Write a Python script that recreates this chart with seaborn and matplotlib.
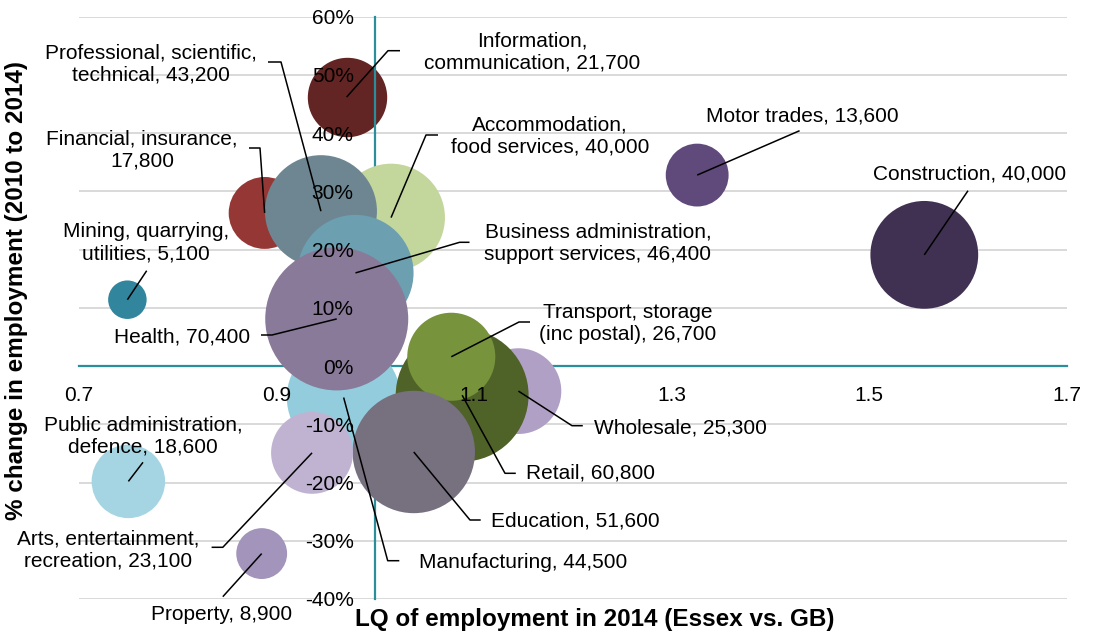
import numpy as np
import pandas as pd
import matplotlib
matplotlib.use("Agg")
import matplotlib.pyplot as plt
import seaborn as sns

# ---------------- data ----------------
sectors = [
    "Information, communication", "Professional, scientific, technical",
    "Financial, insurance", "Accommodation, food services", "Motor trades",
    "Construction", "Mining, quarrying, utilities", "Business administration, support services",
    "Health", "Transport, storage (inc postal)", "Wholesale", "Retail",
    "Manufacturing", "Education", "Arts, entertainment, recreation",
    "Public administration, defence", "Property",
]
lq = [0.971, 0.945, 0.888, 1.016, 1.326, 1.556, 0.749, 0.980,
      0.961, 1.077, 1.145, 1.088, 0.968, 1.039, 0.936, 0.750, 0.885]
change = [46.2, 26.6, 26.3, 25.5, 32.8, 19.1, 11.4, 16.0,
          8.1, 1.6, -4.3, -5.0, -5.4, -14.75, -14.9, -19.8, -32.2]
employment = [21700, 43200, 17800, 40000, 13600, 40000, 5100, 46400,
              70400, 26700, 25300, 60800, 44500, 51600, 23100, 18600, 8900]
labels = [
    "Information,\ncommunication, 21,700", "Professional, scientific,\ntechnical, 43,200",
    "Financial, insurance,\n17,800", "Accommodation,\nfood services, 40,000",
    "Motor trades, 13,600", "Construction, 40,000", "Mining, quarrying,\nutilities, 5,100",
    "Business administration,\nsupport services, 46,400", "Health, 70,400",
    "Transport, storage\n(inc postal), 26,700", "Wholesale, 25,300", "Retail, 60,800",
    "Manufacturing, 44,500", "Education, 51,600", "Arts, entertainment,\nrecreation, 23,100",
    "Public administration,\ndefence, 18,600", "Property, 8,900",
]
colors = ["#632523", "#6E8691", "#953735", "#C3D69B", "#604A7B", "#403152", "#31859C",
          "#6C9FB0", "#887A98", "#77933C", "#B1A0C6", "#4F6228", "#93CDDD", "#76707F",
          "#C0B3D1", "#A5D5E2", "#A294BA"]
x_ticks = [0.7, 0.9, 1.1, 1.3, 1.5, 1.7]
y_ticks = [-40, -30, -20, -10, 0, 10, 20, 30, 40, 50, 60]

df = pd.DataFrame({"sector": sectors, "lq": lq, "change": change,
                   "employment": employment, "label": labels})
palette = dict(zip(sectors, colors))

# ---------------- layout (pixels) ----------------
W, H = 1094, 637
L_PX, R_PX, T_PX, B_PX = 79, 1066.5, 16.7, 599.0

def px2d(px, py):
    x = 0.7 + (px - L_PX) / (R_PX - L_PX) * 1.0
    y = 60 - (py - T_PX) / (B_PX - T_PX) * 100.0
    return x, y

label_pos = {
    "Information, communication": (532, 52),
    "Professional, scientific, technical": (151, 64),
    "Financial, insurance": (142, 150),
    "Accommodation, food services": (550, 136),
    "Motor trades": (802, 116),
    "Construction": (970, 174),
    "Mining, quarrying, utilities": (146, 243),
    "Business administration, support services": (598, 243),
    "Health": (182, 337),
    "Transport, storage (inc postal)": (628, 323.5),
    "Wholesale": (680, 428),
    "Retail": (590, 473),
    "Manufacturing": (523, 563),
    "Education": (575, 521),
    "Arts, entertainment, recreation": (108, 550),
    "Public administration, defence": (143, 436),
    "Property": (222, 615),
}
leader_pts = {
    "Information, communication": [(388, 50.7), (400, 50.7)],
    "Professional, scientific, technical": [(281, 62), (268, 62)],
    "Financial, insurance": [(260, 148), (249, 148)],
    "Accommodation, food services": [(426, 135), (438, 135)],
    "Motor trades": [(799.6, 130.7)],
    "Construction": [(968, 190.7)],
    "Mining, quarrying, utilities": [(146.7, 270.7)],
    "Business administration, support services": [(459.6, 242.3), (469.5, 242.3)],
    "Health": [(272, 335), (261, 335)],
    "Transport, storage (inc postal)": [(519, 322), (530, 322)],
    "Wholesale": [(572, 425.7), (582.8, 425.7)],
    "Retail": [(505, 473.3), (515.8, 473.3)],
    "Manufacturing": [(387.7, 560.7), (399.3, 560.7)],
    "Education": [(470, 520), (480.7, 520)],
    "Arts, entertainment, recreation": [(222.8, 547.3), (211.6, 547.3)],
    "Public administration, defence": [(143, 462.3)],
    "Property": [(222.8, 596.7)],
}
draw_order = ["Manufacturing", "Wholesale", "Retail", "Transport, storage (inc postal)",
              "Education", "Arts, entertainment, recreation", "Mining, quarrying, utilities",
              "Financial, insurance", "Accommodation, food services",
              "Professional, scientific, technical", "Business administration, support services",
              "Health", "Motor trades", "Construction", "Public administration, defence",
              "Property"]

# ---------------- plot ----------------
sns.set_style("white")
plt.rcParams["font.family"] = ["Liberation Sans", "DejaVu Sans"]
plt.rcParams["text.color"] = "black"
plt.rcParams["xtick.labelcolor"] = "black"
plt.rcParams["ytick.labelcolor"] = "black"

TEAL = "#2A8E9B"
FS = 15

fig = plt.figure(figsize=(W / 100, H / 100), dpi=100)
ax = fig.add_axes([L_PX / W, 1 - B_PX / H, (R_PX - L_PX) / W, (B_PX - T_PX) / H])
ax.set_xlim(0.7, 1.7)
ax.set_ylim(-40, 60)

for yv in y_ticks:
    ax.axhline(yv, color="#D9D9D9", lw=1.4, zorder=0.5)

r_max_px = 71.5
s_max = (2 * r_max_px * 0.72) ** 2
size_kw = dict(size="employment", sizes=(0, s_max), size_norm=(0, max(employment)),
               hue="sector", palette=palette, legend=False, linewidth=0, ax=ax)

# Information bubble sits under the axis line
sns.scatterplot(data=df[df.sector == "Information, communication"], x="lq", y="change",
                zorder=0.9, **size_kw)
ordered = df.set_index("sector").loc[draw_order].reset_index()
sns.scatterplot(data=ordered, x="lq", y="change", zorder=2, **size_kw)

# axes through (1.0, 0)
for side in ["top", "right"]:
    ax.spines[side].set_visible(False)
ax.spines["left"].set_position(("data", 1.0))
ax.spines["bottom"].set_position(("data", 0))
for side in ["left", "bottom"]:
    ax.spines[side].set_color(TEAL)
    ax.spines[side].set_linewidth(1.6)
    ax.spines[side].set_zorder(1)

ax.set_axisbelow(False)
ax.set_xticks(x_ticks)
ax.set_xticklabels([f"{v:.1f}" for v in x_ticks], fontsize=FS, color="black")
ax.set_yticks(y_ticks)
ax.set_yticklabels([f"{v}%" for v in y_ticks], fontsize=FS, color="black")
ax.tick_params(axis="x", direction="out", length=4, width=1.6, color=TEAL, pad=10.5)
ax.tick_params(axis="y", length=0, pad=15.5)
ax.set_xlabel("")
ax.set_ylabel("")
ax.grid(False)

# leader lines and labels
for _, row in df.iterrows():
    pts = [(row.lq, row.change)] + [px2d(*p) for p in leader_pts[row.sector]]
    xs, ys = zip(*pts)
    ax.plot(xs, ys, color="black", lw=1.1, zorder=3, clip_on=False, solid_capstyle="butt")
    tx, ty = px2d(*label_pos[row.sector])
    ax.text(tx, ty, row.label, ha="center", va="center", multialignment="center",
            fontsize=FS, linespacing=1.25, zorder=4, clip_on=False, color="black")

fig.text(595 / W, 1 - 626 / H, "LQ of employment in 2014 (Essex vs. GB)",
         ha="center", va="baseline", fontsize=17.5, fontweight="bold", color="black")
fig.text(17 / W, 1 - 290 / H, "% change in employment (2010 to 2014)",
         ha="center", va="center", rotation=90, fontsize=17.5, fontweight="bold", color="black")

fig.savefig("out.png", dpi=100)
